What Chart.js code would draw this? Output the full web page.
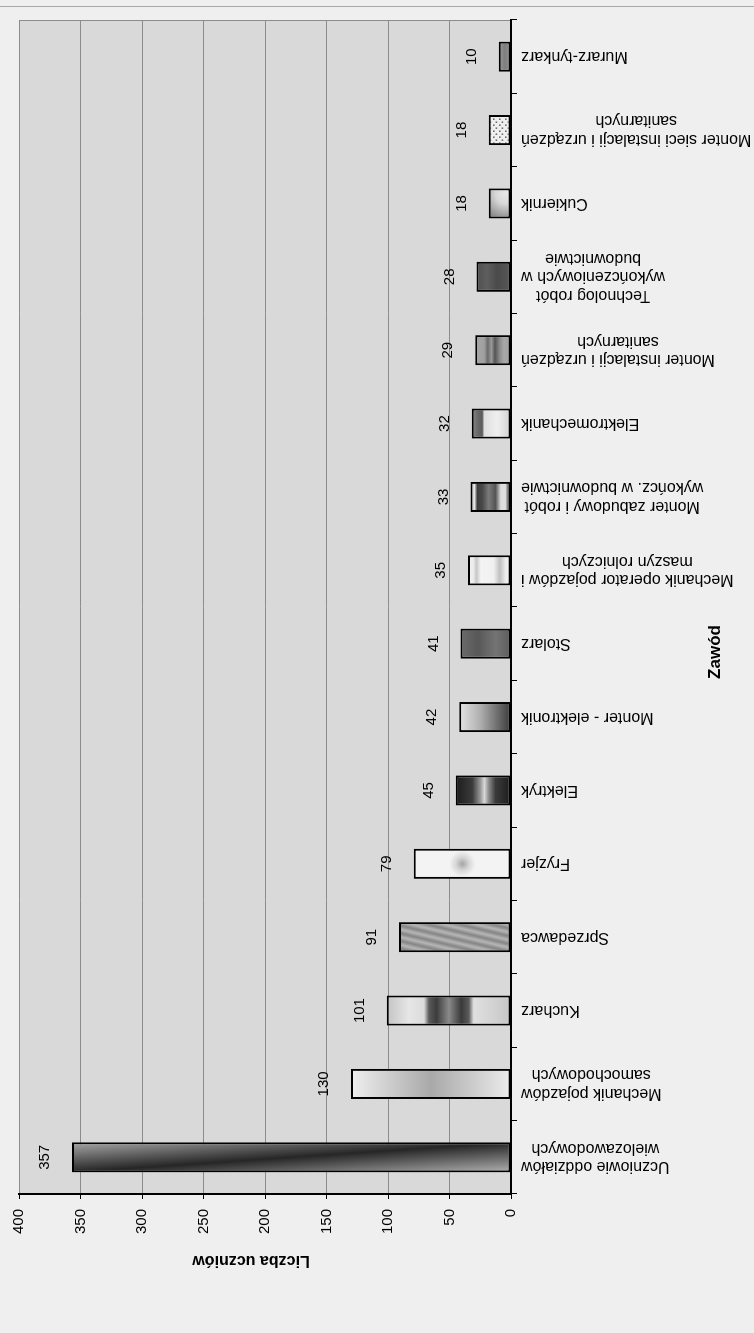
<!DOCTYPE html>
<html><head><meta charset="utf-8">
<script src="https://cdn.jsdelivr.net/npm/chart.js@4.4.1/dist/chart.umd.min.js"></script>
<style>
html,body{margin:0;padding:0;background:#efefef;overflow:hidden;width:754px;height:1333px;}
#wrap{position:absolute;left:0;top:0;width:1333px;height:754px;transform-origin:0 0;transform:translate(0px,1333px) rotate(-90deg);}
canvas{display:block;}
</style></head><body>
<div id="wrap"><canvas id="c" width="1333" height="754"></canvas></div>
<script>
// ---- data ----
const categories = [
  ['Uczniowie oddziałów','wielozawodowych'],
  ['Mechanik pojazdów','samochodowych'],
  ['Kucharz'],
  ['Sprzedawca'],
  ['Fryzjer'],
  ['Elektryk'],
  ['Monter - elektronik'],
  ['Stolarz'],
  ['Mechanik operator pojazdów i','maszyn rolniczych'],
  ['Monter zabudowy i robót','wykończ. w budownictwie'],
  ['Elektromechanik'],
  ['Monter instalacji i urządzeń','sanitarnych'],
  ['Technolog robót','wykończeniowych w','budownictwie'],
  ['Cukiernik'],
  ['Monter sieci instalacji i urządzeń','sanitarnych'],
  ['Murarz-tynkarz']
];
const values = [357,130,101,91,79,45,42,41,35,33,32,29,28,18,18,10];
const valueTicks = [0,50,100,150,200,250,300,350,400];
const valueAxisTitle = 'Liczba uczniów';
const categoryAxisTitle = 'Zawód';

// ---- styles ----
const FONT = "'Liberation Sans', Arial, sans-serif";
const BAR_PCT = 0.41;
const FILLS = [
  {type:'diag', stops:[[0,'#b2b2b2'],[0.5,'#262626'],[1,'#a8a8a8']]},
  {type:'v', stops:[[0,'#efefef'],[0.5,'#a9a9a9'],[1,'#ececec']]},
  {type:'v', stops:[[0,'#c4c4c4'],[0.18,'#e6e6e6'],[0.3,'#dcdcdc'],[0.34,'#5a5a5a'],[0.4,'#3c3c3c'],[0.5,'#8a8a8a'],[0.6,'#3a3a3a'],[0.66,'#5a5a5a'],[0.7,'#e0e0e0'],[1,'#c6c6c6']]},
  {type:'stripes', light:'#b6b6b6', dark:'#858585', period:7.5},
  {type:'radial', at:'center', r:13, stops:[[0,'#a4a4a4'],[0.5,'#d6d6d6'],[1,'#f3f3f3']]},
  {type:'v', stops:[[0,'#1c1c1c'],[0.3,'#3a3a3a'],[0.45,'#9a9a9a'],[0.52,'#d8d8d8'],[0.6,'#8a8a8a'],[0.72,'#3a3a3a'],[1,'#1c1c1c']]},
  {type:'v', stops:[[0,'#e4e4e4'],[0.4,'#b0b0b0'],[1,'#3a3a3a']]},
  {type:'v', stops:[[0,'#6a6a6a'],[0.35,'#585858'],[0.7,'#747474'],[1,'#5c5c5c']]},
  {type:'v', stops:[[0,'#f2f2f2'],[0.12,'#ededed'],[0.2,'#c8c8c8'],[0.3,'#f4f4f4'],[0.6,'#f0f0f0'],[0.74,'#c0c0c0'],[0.88,'#eeeeee'],[1,'#f2f2f2']]},
  {type:'v', stops:[[0,'#9a9a9a'],[0.1,'#e8e8e8'],[0.17,'#3c3c3c'],[0.3,'#4a4a4a'],[0.45,'#7a7a7a'],[0.62,'#555555'],[0.75,'#dcdcdc'],[0.86,'#e0e0e0'],[0.95,'#4a4a4a'],[1,'#404040']]},
  {type:'v', stops:[[0,'#8a8a8a'],[0.15,'#6a6a6a'],[0.27,'#5a5a5a'],[0.32,'#dedede'],[0.65,'#efefef'],[1,'#d0d0d0']]},
  {type:'v', stops:[[0,'#a6a6a6'],[0.25,'#a0a0a0'],[0.35,'#6a6a6a'],[0.45,'#9a9a9a'],[0.55,'#555555'],[0.68,'#8a8a8a'],[0.8,'#a8a8a8'],[1,'#a0a0a0']]},
  {type:'v', stops:[[0,'#4e4e4e'],[0.3,'#5e5e5e'],[0.6,'#4a4a4a'],[1,'#585858']]},
  {type:'radial', at:'corner', r:26, stops:[[0,'#e8e8e8'],[0.4,'#d8d8d8'],[1,'#8a8a8a']]},
  {type:'dots', base:'#efefef', dot:'#6e6e6e'},
  {type:'v', stops:[[0,'#9a9a9a'],[0.5,'#7e7e7e'],[1,'#959595']]}
];

function barGeom(ctx){
  const ch = ctx.chart, xs = ch.scales.x, ys = ch.scales.y;
  if(!xs || !ys || !ch.chartArea || ctx.dataIndex == null) return null;
  const i = ctx.dataIndex;
  const cx = xs.getPixelForValue(i);
  const band = (xs.right - xs.left) / categories.length;
  const w = band * BAR_PCT;
  return {l:cx-w/2, r:cx+w/2, t:ys.getPixelForValue(values[i]), b:ys.getPixelForValue(0), cx:cx};
}
function addStops(gr, stops){ stops.forEach(s=>gr.addColorStop(s[0], s[1])); return gr; }
function makeFill(ctx){
  const g = barGeom(ctx);
  if(!g) return '#888888';
  const c = ctx.chart.ctx;
  const s = FILLS[ctx.dataIndex];
  if(s.type === 'v'){
    return addStops(c.createLinearGradient(0, g.t, 0, g.b), s.stops);
  }
  if(s.type === 'diag'){
    const w = g.r-g.l, h = g.b-g.t, L = Math.hypot(w,h);
    const nx = h/L, ny = -w/L, d = w*h/L;
    const mx = (g.l+g.r)/2, my = (g.t+g.b)/2;
    return addStops(c.createLinearGradient(mx-nx*d, my-ny*d, mx+nx*d, my+ny*d), s.stops);
  }
  if(s.type === 'stripes'){
    const n = Math.hypot(1,0.24), ux = 1/n, uy = 0.24/n;
    const pts = [[g.l,g.t],[g.r,g.t],[g.l,g.b],[g.r,g.b]].map(p=>p[0]*ux+p[1]*uy);
    const mn = Math.min(...pts), mxp = Math.max(...pts), len = mxp-mn;
    const gr = c.createLinearGradient(ux*mn, uy*mn, ux*mxp, uy*mxp);
    for(let j=0;;j++){
      const t = j*s.period/2/len;
      if(t>1) break;
      gr.addColorStop(t, j%2 ? s.dark : s.light);
    }
    return gr;
  }
  if(s.type === 'radial'){
    let x, y;
    if(s.at === 'center'){ x = g.cx; y = (g.t+g.b)/2; }
    else { x = g.r-5; y = g.b-5; }
    return addStops(c.createRadialGradient(x, y, 0, x, y, s.r), s.stops);
  }
  if(s.type === 'dots'){
    const pc = document.createElement('canvas'); pc.width = 6; pc.height = 6;
    const p = pc.getContext('2d');
    p.fillStyle = s.base; p.fillRect(0,0,6,6);
    p.fillStyle = s.dot; p.fillRect(1,1,1.6,1.6); p.fillRect(4,3.6,1.6,1.6);
    return c.createPattern(pc, 'repeat');
  }
  return '#888888';
}

const bgPlugin = {
  id:'bg',
  beforeDraw(chart){
    const {ctx, chartArea:a, width, height} = chart;
    ctx.save();
    ctx.fillStyle = '#efefef'; ctx.fillRect(0,0,width,height);
    ctx.fillStyle = '#d9d9d9'; ctx.fillRect(a.left, a.top, a.right-a.left, a.bottom-a.top);
    ctx.strokeStyle = '#8c8c8c'; ctx.lineWidth = 1;
    ctx.beginPath(); ctx.moveTo(a.right-0.5, a.top); ctx.lineTo(a.right-0.5, a.bottom); ctx.stroke();
    ctx.strokeStyle = '#a8a8a8';
    ctx.beginPath(); ctx.moveTo(width-6.5, 0); ctx.lineTo(width-6.5, height); ctx.stroke();
    ctx.restore();
  }
};

const textPlugin = {
  id:'texts',
  afterDraw(chart){
    const {ctx, chartArea:a} = chart;
    const xs = chart.scales.x;
    ctx.save();
    ctx.fillStyle = '#000';
    // data labels
    ctx.font = '15px ' + FONT;
    ctx.textAlign = 'center'; ctx.textBaseline = 'middle';
    chart.getDatasetMeta(0).data.forEach((bar, i) => {
      ctx.fillText(String(values[i]), bar.x, bar.y - 27);
    });
    // category labels (rotated, lines centred, block aligned to axis)
    ctx.font = '16px ' + FONT;
    categories.forEach((lines, i) => {
      const cx = xs.getPixelForValue(i);
      const maxW = Math.max(...lines.map(l => ctx.measureText(l).width));
      ctx.save();
      ctx.translate(cx, a.bottom + 10);
      ctx.rotate(-Math.PI/2);
      lines.forEach((ln, j) => {
        ctx.fillText(ln, -maxW/2, (j - (lines.length-1)/2) * 18.5);
      });
      ctx.restore();
    });
    // axis titles
    ctx.font = 'bold 16px ' + FONT;
    ctx.save();
    ctx.translate(a.left - 66, (a.top + a.bottom)/2 - 14);
    ctx.rotate(-Math.PI/2);
    ctx.fillText(valueAxisTitle, 0, 0);
    ctx.restore();
    ctx.font = 'bold 17px ' + FONT;
    ctx.fillText(categoryAxisTitle, (a.left + a.right)/2 - 45, a.bottom + 204);
    ctx.restore();
  }
};

new Chart(document.getElementById('c'), {
  type:'bar',
  data:{
    labels: categories,
    datasets:[{
      data: values,
      backgroundColor: makeFill,
      borderColor:'#000',
      borderWidth:2,
      borderSkipped:false,
      barPercentage: BAR_PCT,
      categoryPercentage: 1
    }]
  },
  options:{
    responsive:false,
    animation:false,
    events:[],
    devicePixelRatio:1,
    layout:{padding:{left:0, right:20, top:17, bottom:0}},
    plugins:{legend:{display:false}, tooltip:{enabled:false}, title:{display:false}},
    scales:{
      x:{
        type:'category',
        offset:true,
        grid:{offset:true, drawOnChartArea:false, drawTicks:true, tickLength:6, color:'#000', tickColor:'#000'},
        border:{display:true, color:'#000', width:2},
        ticks:{display:false, autoSkip:false},
        afterFit(scale){ scale.height = 243; }
      },
      y:{
        min: valueTicks[0],
        max: valueTicks[valueTicks.length-1],
        ticks:{stepSize: valueTicks[1]-valueTicks[0], color:'#000', padding:10, font:{family:FONT, size:15}},
        grid:{color:'#8c8c8c', lineWidth:1, tickColor:'#000', tickLength:5, drawTicks:true},
        border:{display:true, color:'#000', width:2},
        afterFit(scale){ scale.width = 139; }
      }
    }
  },
  plugins:[bgPlugin, textPlugin]
});
</script>
</body></html>
